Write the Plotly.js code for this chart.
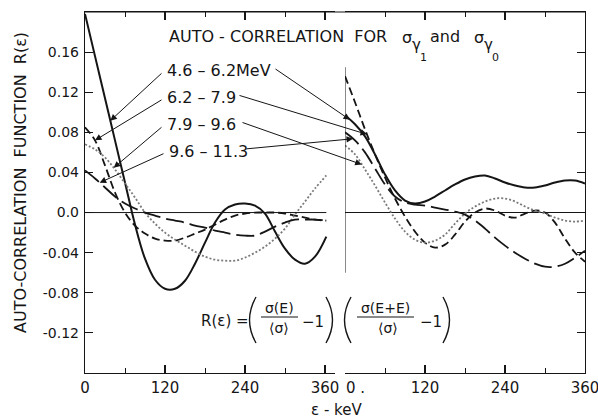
<!DOCTYPE html>
<html><head><meta charset="utf-8">
<script src="https://cdn.plot.ly/plotly-3.0.1.min.js"></script>
<style>html,body{margin:0;padding:0;background:#fff}</style>
</head><body><div id="chart" style="width:598px;height:420px"></div>
<script>
// ---- data ----
const energyLeft  = [0,15,30,45,60,75,90,105,120,135,150,165,180,195,210,225,240,255,270,285,300,315,330,345,362];
const energyRight = [0,15,30,45,60,75,90,105,120,135,150,165,180,195,210,225,240,255,270,285,300,315,330,345,360];
const bandLabels  = ['4.6 – 6.2MeV','6.2 – 7.9','7.9 – 9.6','9.6 – 11.3'];

// left panel: sigma gamma1
const left46  = [0.198,0.156,0.114,0.072,0.030,-0.012,-0.046,-0.067,-0.076,-0.076,-0.068,-0.051,-0.030,-0.010,0.003,0.008,0.009,0.007,-0.001,-0.019,-0.036,-0.047,-0.051,-0.044,-0.024];
const left62  = [0.085,0.072,0.047,0.020,0.000,-0.013,-0.021,-0.026,-0.028,-0.028,-0.025,-0.021,-0.017,-0.012,-0.007,-0.003,-0.001,0.000,0.000,0.000,-0.001,-0.003,-0.005,-0.007,-0.008];
const left79  = [0.068,0.063,0.055,0.043,0.029,0.015,0.000,-0.011,-0.020,-0.027,-0.033,-0.039,-0.044,-0.047,-0.048,-0.048,-0.045,-0.040,-0.034,-0.026,-0.016,-0.002,0.011,0.024,0.037];
const left96  = [0.042,0.034,0.025,0.016,0.009,0.004,0.000,-0.003,-0.006,-0.008,-0.010,-0.013,-0.015,-0.018,-0.020,-0.022,-0.023,-0.023,-0.019,-0.014,-0.010,-0.007,-0.007,-0.007,-0.008];

// right panel: sigma gamma0
const right46 = [0.097,0.088,0.076,0.058,0.038,0.022,0.012,0.009,0.011,0.016,0.022,0.028,0.033,0.036,0.037,0.034,0.030,0.027,0.025,0.025,0.027,0.030,0.032,0.032,0.029];
const right62 = [0.136,0.110,0.083,0.058,0.035,0.014,-0.004,-0.019,-0.030,-0.035,-0.032,-0.022,-0.009,0.000,0.004,0.002,-0.003,-0.005,-0.001,0.002,0.000,-0.010,-0.026,-0.040,-0.049];
const right79 = [0.067,0.058,0.043,0.027,0.010,-0.006,-0.019,-0.027,-0.030,-0.028,-0.022,-0.011,-0.001,0.006,0.011,0.014,0.014,0.011,0.006,0.002,-0.001,-0.005,-0.008,-0.009,-0.008];
const right96 = [0.080,0.072,0.060,0.044,0.028,0.016,0.010,0.008,0.007,0.005,0.003,0.001,-0.002,-0.008,-0.016,-0.025,-0.033,-0.040,-0.046,-0.051,-0.054,-0.054,-0.051,-0.045,-0.038];

const yTickVals = [-0.12,-0.08,-0.04,0,0.04,0.08,0.12,0.16];
const yTickText = ['-0.12','-0.08','-0.04','0.0','0.04','0.08','0.12','0.16'];
const xTickVals = [0,120,240,360];
const xTickTextLeft  = ['0','120','240','360'];
const xTickTextRight = ['','120','240','360'];
const rightZeroLabel = '0 .';

// ---- styles ----
const FONT = 'DejaVu Sans, Liberation Sans, sans-serif';
const INK = '#151515';
const styles = [
  {color: INK, width: 2, dash: 'solid'},
  {color: INK, width: 1.8, dash: '8px,4px'},
  {color: '#7a7a7a', width: 1.8, dash: '2px,2px'},
  {color: INK, width: 1.8, dash: '18px,6px'}
];
const leftSeries  = [left46, left62, left79, left96];
const rightSeries = [right46, right62, right79, right96];

const traces = [];
leftSeries.forEach((ys, i) => traces.push({
  x: energyLeft, y: ys, xaxis: 'x', yaxis: 'y', mode: 'lines', name: bandLabels[i],
  line: Object.assign({shape: 'spline', smoothing: 1}, styles[i]), showlegend: false, hoverinfo: 'skip'
}));
rightSeries.forEach((ys, i) => traces.push({
  x: energyRight, y: ys, xaxis: 'x2', yaxis: 'y2', mode: 'lines', name: bandLabels[i],
  line: Object.assign({shape: 'spline', smoothing: 1}, styles[i]), showlegend: false, hoverinfo: 'skip'
}));

// ---- geometry helpers (layout only) ----
const W = 598, H = 420, ML = 85, MR = 13, MT = 12, MB = 47;
const PW = W - ML - MR, PH = H - MT - MB;
const px = v => (v - ML) / PW;          // pixel x -> paper
const py = v => (H - MB - v) / PH;       // pixel y -> paper
const Y0 = -0.16, Y1 = 0.2;
const yOfPx = v => Y1 - (v - MT) * (Y1 - Y0) / PH;   // pixel y -> data y
const xLeftOfPx = v => (v - ML) * 375 / (PW * 0.5);
const x2Start = ML + PW * 0.52;
const xRightOfPx = v => (v - x2Start) * 360 / (PW * 0.48);
function interp(xs, ys, x) {
  for (let i = 0; i < xs.length - 1; i++) {
    if (x >= xs[i] && x <= xs[i+1]) {
      const t = (x - xs[i]) / (xs[i+1] - xs[i]);
      return ys[i] + t * (ys[i+1] - ys[i]);
    }
  }
  return ys[ys.length - 1];
}

const annotations = [];
const shapes = [];
function txt(x, y, text, size, extra) {
  annotations.push(Object.assign({xref:'paper', yref:'paper', x: px(x), y: py(y), xanchor:'center', yanchor:'middle',
    showarrow:false, text, font:{family:FONT, size, color:INK}}, extra || {}));
}

// title (pieces so the nested subscripts sit like the original lettering)
txt(389, 36, 'AUTO - CORRELATION  FOR', 16, {xanchor:'right'});
txt(407, 38, 'σ', 16);
txt(416, 45, 'γ', 15);
txt(423, 57, '1', 11);
txt(445, 36, 'and', 16);
txt(479, 38, 'σ', 16);
txt(488, 45, 'γ', 15);
txt(495, 57, '0', 11);

// band labels with arrows
const labelPos = [ [165, 70], [165, 97], [165, 124], [167, 151] ];
const labelEnd = [ 274, 238, 241, 245 ];
const leftHeadX  = [38, 15, 43, 22];
const rightHeadX = [7.5, 33, 25, 12];
bandLabels.forEach((t, i) => {
  const [lx, ly] = labelPos[i];
  annotations.push({xref:'x', yref:'y', x: xLeftOfPx(lx), y: yOfPx(ly), xanchor:'left', yanchor:'middle',
    text: t, showarrow:false, font:{family:FONT, size:16, color:INK}});
  annotations.push({xref:'x', yref:'y', axref:'x', ayref:'y', text:'',
    x: leftHeadX[i], y: interp(energyLeft, leftSeries[i], leftHeadX[i]),
    ax: xLeftOfPx(lx - 2), ay: yOfPx(ly + 2),
    showarrow:true, arrowhead:2, arrowsize:1.3, arrowwidth:1, arrowcolor:INK, standoff:0, startstandoff:0});
  annotations.push({xref:'x2', yref:'y2', axref:'x2', ayref:'y2', text:'',
    x: rightHeadX[i], y: interp(energyRight, rightSeries[i], rightHeadX[i]),
    ax: xRightOfPx(labelEnd[i]), ay: yOfPx(ly - 2),
    showarrow:true, arrowhead:2, arrowsize:1.3, arrowwidth:1, arrowcolor:INK, standoff:0, startstandoff:0});
});

// formula
txt(225, 321, 'R(ε) =', 15);
txt(279, 308, 'σ(E)', 14);
txt(279, 328, '⟨σ⟩', 14);
txt(313, 322, '−1', 15);
txt(385, 308, 'σ(E+E)', 14);
txt(388, 328, '⟨σ⟩', 14);
txt(431, 322, '−1', 15);
const paren = (x0, bulge) => `M ${px(x0)} ${py(297)} Q ${px(x0 + bulge)} ${py(320)} ${px(x0)} ${py(343)}`;
[[256,-13],[326,13],[351,-13],[443,13]].forEach(([x0,b]) => shapes.push({type:'path', xref:'paper', yref:'paper',
  path: paren(x0, b), line:{color:INK, width:1.4}}));
[[261,298],[357,414]].forEach(([a,b]) => shapes.push({type:'line', xref:'paper', yref:'paper',
  x0:px(a), x1:px(b), y0:py(317), y1:py(317), line:{color:INK, width:1.2}}));

// axis titles and the right panel's zero label
txt(336, 410, 'ε - keV', 15);
txt(20, 183, 'AUTO-CORRELATION  FUNCTION  R(ε)', 16, {textangle:-90});
txt(344, 388, rightZeroLabel, 15, {xanchor:'left'});

// frame pieces
shapes.push({type:'line', xref:'paper', yref:'paper', x0:0, x1:1, y0:1, y1:1, line:{color:INK, width:1.2}});
shapes.push({type:'line', xref:'x', yref:'y', x0:0, x1:energyLeft[energyLeft.length-1], y0:0, y1:0, line:{color:INK, width:1}});
shapes.push({type:'line', xref:'x2', yref:'y2', x0:0, x1:0, y0:-0.06, y1:0.145, line:{color:INK, width:1}});

const xCommon = {showline:true, linecolor:INK, linewidth:1.2, ticks:'inside', ticklen:8, tickcolor:INK, tickwidth:1.2,
  mirror:'ticks', showgrid:false, zeroline:false, tickvals:xTickVals, ticklabelstandoff:1, ticklabeloverflow:'allow',
  tickfont:{family:FONT, size:15, color:INK},
  minor:{tickvals:[60,180,300], ticks:'inside', ticklen:5, tickcolor:INK, tickwidth:1, showgrid:false}};

const layout = {
  width:W, height:H, margin:{l:ML, r:MR, t:MT, b:MB, pad:0},
  paper_bgcolor:'#fff', plot_bgcolor:'#fff', showlegend:false,
  xaxis: Object.assign({}, xCommon, {domain:[0,0.5], range:[0,375], anchor:'y', ticktext:xTickTextLeft}),
  xaxis2: Object.assign({}, xCommon, {domain:[0.52,1], range:[0,360], anchor:'y2', ticktext:xTickTextRight}),
  yaxis: {domain:[0,1], range:[Y0,Y1], anchor:'x', showline:true, linecolor:INK, linewidth:1.2, ticks:'inside', ticklen:8,
    tickcolor:INK, tickwidth:1.2, showgrid:false, zeroline:false, tickvals:yTickVals, ticktext:yTickText,
    tickfont:{family:FONT, size:14, color:INK}, ticklabelstandoff:2},
  yaxis2: {domain:[0,1], range:[Y0,Y1], anchor:'x2', side:'right', showline:true, linecolor:INK, linewidth:1.2,
    ticks:'inside', ticklen:8, tickcolor:INK, tickwidth:1.2, showgrid:false, zeroline:true, zerolinecolor:INK,
    zerolinewidth:1, tickvals:yTickVals, showticklabels:false},
  annotations, shapes
};
Plotly.newPlot('chart', traces, layout, {staticPlot:true, displayModeBar:false});
</script></body></html>
